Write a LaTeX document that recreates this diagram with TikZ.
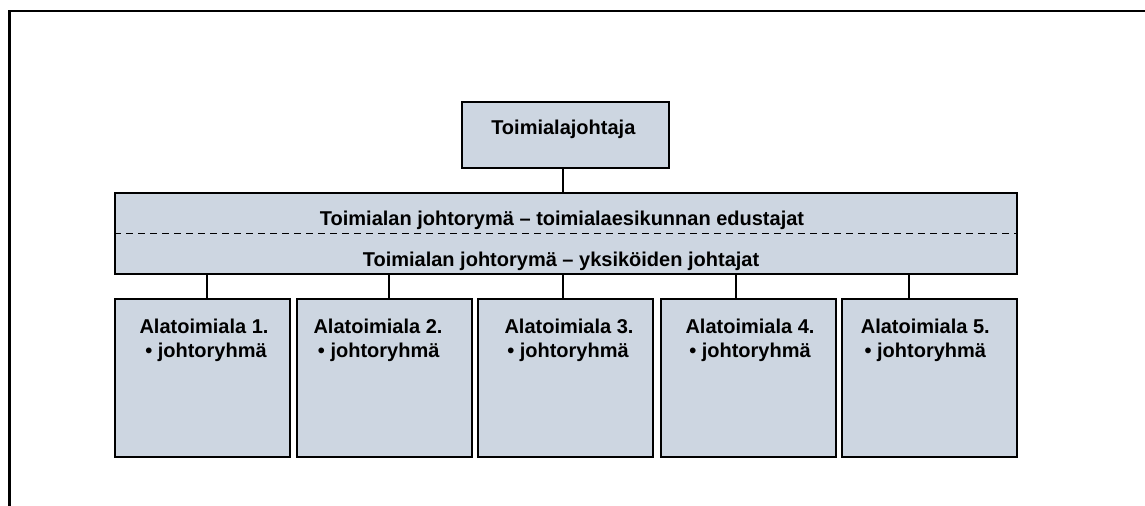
\documentclass[tikz,border=0pt]{standalone}
\usepackage{fontspec}
\setmainfont{Liberation Sans}
\definecolor{boxfill}{RGB}{205,214,225}
\begin{document}
\begin{tikzpicture}[x=0.75pt,y=-0.75pt,
  box/.style={draw=black,line width=1.5pt,fill=boxfill,inner sep=0pt},
  unitbox/.style={box,minimum width=131.25pt,minimum height=118.5pt},
  lbl/.style={inner sep=0pt,anchor=base,font=\fontsize{15pt}{18pt}\selectfont\bfseries},
  link/.style={draw=black,line width=1.5pt},
  divider/.style={draw=black,line width=1.1pt,dash pattern=on 5.6pt off 3.4pt},
  frame/.style={draw=black,line width=1.9pt}]
\useasboundingbox (0,0) rectangle (1145,506);

% open page frame
\draw[frame] (9.5,512) -- (9.5,11) -- (1150,11);

% head of the division
\node[box,minimum width=155.25pt,minimum height=49.5pt] (head) at (565.8,134.7) {};
\node[lbl] (headtxt) at (563.3,135) {Toimialajohtaja};

% management group band
\node[box,minimum width=676.5pt,minimum height=60.75pt] (band) at (566,233.5) {};
\coordinate (dl) at (0,233.3);
\draw[divider] (band.west |- dl) -- (band.east |- dl);
\node[lbl] (bandtop) at (562,225.7) {Toimialan johtorymä – toimialaesikunnan edustajat};
\node[lbl] (bandbot) at (561,266) {Toimialan johtorymä – yksiköiden johtajat};

% sub-division boxes
\node[unitbox] (u1) at (202.5,378.3) {};
\node[unitbox] (u2) at (384.7,378.3) {};
\node[unitbox] (u3) at (565.8,378.3) {};
\node[unitbox] (u4) at (748.2,378.3) {};
\node[unitbox] (u5) at (929.9,378.3) {};

\node[lbl] (u1a) at (204,333.5) {Alatoimiala 1.};
\node[lbl] (u1b) at (206,357) {• johtoryhmä};
\node[lbl] (u2a) at (378,333.5) {Alatoimiala 2.};
\node[lbl] (u2b) at (378.7,357) {• johtoryhmä};
\node[lbl] (u3a) at (569,333.5) {Alatoimiala 3.};
\node[lbl] (u3b) at (568,357) {• johtoryhmä};
\node[lbl] (u4a) at (750,333.5) {Alatoimiala 4.};
\node[lbl] (u4b) at (750,357) {• johtoryhmä};
\node[lbl] (u5a) at (925.3,333.5) {Alatoimiala 5.};
\node[lbl] (u5b) at (925.3,357) {• johtoryhmä};

% connector columns
\coordinate (k0) at (562.5,0);
\coordinate (k1) at (206.7,0);
\coordinate (k2) at (388.7,0);
\coordinate (k3) at (562.7,0);
\coordinate (k4) at (736,0);
\coordinate (k5) at (909,0);

\draw[link] (head.south -| k0) -- (band.north -| k0);
\draw[link] (band.south -| k1) -- (u1.north -| k1);
\draw[link] (band.south -| k2) -- (u2.north -| k2);
\draw[link] (band.south -| k3) -- (u3.north -| k3);
\draw[link] (band.south -| k4) -- (u4.north -| k4);
\draw[link] (band.south -| k5) -- (u5.north -| k5);
\end{tikzpicture}
\end{document}
